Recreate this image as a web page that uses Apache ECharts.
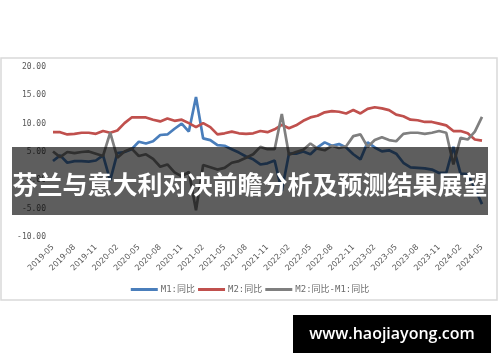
<!DOCTYPE html>
<html>
<head>
<meta charset="utf-8">
<script src="https://cdn.jsdelivr.net/npm/echarts@6/dist/echarts.min.js"></script>
<style>
html,body{margin:0;padding:0;background:#fff;}
#c{width:500px;height:362px;}
</style>
</head>
<body>
<div id="c"></div>
<script>
var months = [
'2019-05','2019-06','2019-07','2019-08','2019-09','2019-10','2019-11','2019-12',
'2020-01','2020-02','2020-03','2020-04','2020-05','2020-06','2020-07','2020-08','2020-09','2020-10','2020-11','2020-12',
'2021-01','2021-02','2021-03','2021-04','2021-05','2021-06','2021-07','2021-08','2021-09','2021-10','2021-11','2021-12',
'2022-01','2022-02','2022-03','2022-04','2022-05','2022-06','2022-07','2022-08','2022-09','2022-10','2022-11','2022-12',
'2023-01','2023-02','2023-03','2023-04','2023-05','2023-06','2023-07','2023-08','2023-09','2023-10','2023-11','2023-12',
'2024-01','2024-02','2024-03','2024-04','2024-05'];
var m1 = [3.4,4.4,3.1,3.4,3.4,3.3,3.5,4.4,
0.0,4.8,5.0,5.5,6.8,6.5,6.9,8.0,8.1,9.1,10.0,8.6,
14.7,7.4,7.1,6.2,6.1,5.5,4.9,4.2,3.7,2.8,3.0,3.5,
-1.9,4.7,4.7,5.1,4.6,5.8,6.7,6.1,6.4,5.8,4.6,3.7,
6.7,5.8,5.1,5.3,4.7,3.1,2.3,2.2,2.1,1.9,1.3,1.3,
5.9,1.2,1.1,-1.4,-4.2];
var m2 = [8.5,8.5,8.1,8.2,8.4,8.4,8.2,8.7,
8.4,8.8,10.1,11.1,11.1,11.1,10.7,10.4,10.9,10.5,10.7,10.1,
9.4,10.1,9.4,8.1,8.3,8.6,8.3,8.2,8.3,8.7,8.5,9.0,
9.8,9.2,9.7,10.5,11.1,11.4,12.0,12.2,12.1,11.8,12.4,11.8,
12.6,12.9,12.7,12.4,11.6,11.3,10.7,10.6,10.3,10.3,10.0,9.7,
8.7,8.7,8.3,7.2,7.0];
var diff = [5.1,4.1,5.0,4.8,5.0,5.1,4.7,4.3,
8.4,4.0,5.1,5.6,4.3,4.6,3.8,2.4,2.8,1.4,0.7,1.5,
-5.3,2.7,2.3,1.9,2.2,3.1,3.4,4.0,4.6,5.9,5.5,5.5,
11.7,4.5,5.0,5.4,6.5,5.6,5.3,6.1,5.7,6.0,7.8,8.1,
5.9,7.1,7.6,7.1,6.9,8.2,8.4,8.4,8.2,8.4,8.7,8.4,
2.8,7.5,7.2,8.6,11.2];
var seriesNames = ['M1:同比','M2:同比','M2:同比-M1:同比'];
var bannerText = '芬兰与意大利对决前瞻分析及预测结果展望';
var siteText = 'www.haojiayong.com';

var chart = echarts.init(document.getElementById('c'), null, {renderer:'canvas'});
var mono = '"DejaVu Sans Mono","Noto Sans CJK SC",monospace';
chart.setOption({
  animation:false,
  backgroundColor:'#fff',
  grid:{left:53,right:18,top:67,bottom:125,containLabel:false},
  legend:{
    top:280, left:'center',
    icon:'rect', itemWidth:27, itemHeight:3, itemGap:3,
    textStyle:{fontFamily:mono,fontSize:9,color:'#6b6b6b',padding:[0,0,0,-2]},
    data:seriesNames
  },
  xAxis:{
    type:'category', boundaryGap:false, data:months,
    axisLine:{show:false}, axisTick:{show:false},
    axisLabel:{interval:2, rotate:45, fontFamily:'"DejaVu Sans","Noto Sans CJK SC",sans-serif', fontSize:8, color:'#595959', margin:9}
  },
  yAxis:{
    type:'value', min:-10, max:20, interval:5,
    axisLine:{show:false}, axisTick:{show:false}, splitLine:{show:false},
    axisLabel:{formatter:function(v){return v.toFixed(2);}, fontFamily:mono, fontSize:8, color:'#595959', margin:7}
  },
  series:[
    {name:seriesNames[0],type:'line',data:m1,symbol:'none',lineStyle:{width:2.7,color:'#4a7ebb'},itemStyle:{color:'#4a7ebb'}},
    {name:seriesNames[1],type:'line',data:m2,symbol:'none',lineStyle:{width:2.7,color:'#c0504d'},itemStyle:{color:'#c0504d'}},
    {name:seriesNames[2],type:'line',data:diff,symbol:'none',lineStyle:{width:2.7,color:'#7f7f7f'},itemStyle:{color:'#7f7f7f'}}
  ],
  graphic:[
    {type:'rect',z:-1,shape:{x:1,y:58,width:496,height:242},style:{fill:'none',stroke:'#d9d9d9',lineWidth:1.5},silent:true},
    {type:'rect',z:100,shape:{x:12,y:147,width:476,height:68},style:{fill:'rgba(0,0,0,0.63)'},silent:true},
    {type:'text',z:101,x:250,y:184,style:{text:bannerText,fill:'#fff',font:'bold 25px "Noto Sans CJK SC",sans-serif',align:'center',verticalAlign:'middle'},silent:true},
    {type:'rect',z:100,shape:{x:293,y:315,width:198,height:38},style:{fill:'#000'},silent:true},
    {type:'text',z:101,x:392,y:334,style:{text:siteText,fill:'#fff',font:'600 16px "Open Sans",sans-serif',align:'center',verticalAlign:'middle'},silent:true}
  ]
});
</script>
</body>
</html>
